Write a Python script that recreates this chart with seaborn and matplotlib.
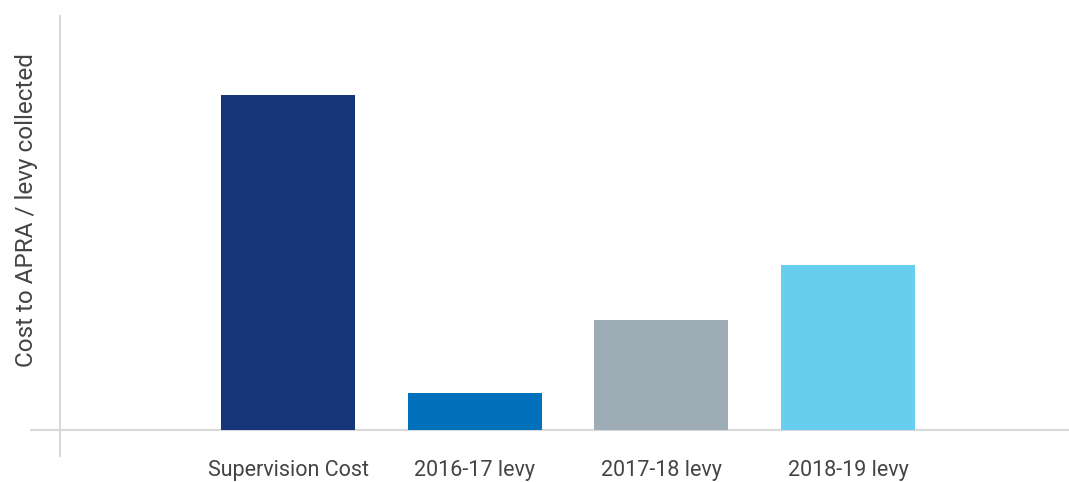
import matplotlib
matplotlib.use("Agg")
import matplotlib.pyplot as plt
import seaborn as sns
import pandas as pd

categories = ["Supervision Cost", "2016-17 levy", "2017-18 levy", "2018-19 levy"]
values = [335, 37, 110, 165]
colors = ["#17367a", "#0171bb", "#9eacb6", "#68cef0"]

sns.set_theme(style="white")
plt.rcParams["font.family"] = ["Roboto", "DejaVu Sans"]

df = pd.DataFrame({"category": categories, "value": values})

fig = plt.figure(figsize=(10.69, 4.82), dpi=100)
ax = fig.add_axes([30 / 1069, 26 / 482, 1039 / 1069, 440 / 482])

sns.barplot(data=df, x="category", y="value", hue="category",
            palette=colors, width=0.718, legend=False, ax=ax,
            saturation=1, edgecolor="none")

ax.set_xlim(-1.383, 4.185)
ax.set_ylim(-26, 414)

for s in ["top", "right", "bottom"]:
    ax.spines[s].set_visible(False)
ax.spines["left"].set_position(("data", -1.222))
ax.spines["left"].set_color("#d9d9d9")
ax.spines["left"].set_linewidth(1.5)
ax.axhline(0, color="#d9d9d9", lw=1.5, zorder=0)

ax.set_yticks([])
ax.tick_params(axis="x", length=0, pad=3, labelsize=15.5, labelcolor="#444444")
ax.set_xlabel("")
ax.set_ylabel("Cost to APRA / levy collected", fontsize=17.5, color="#444444")
ax.yaxis.set_label_coords(8 / 1039, (456 - 210) / 440)

fig.savefig("out.png", dpi=100)
